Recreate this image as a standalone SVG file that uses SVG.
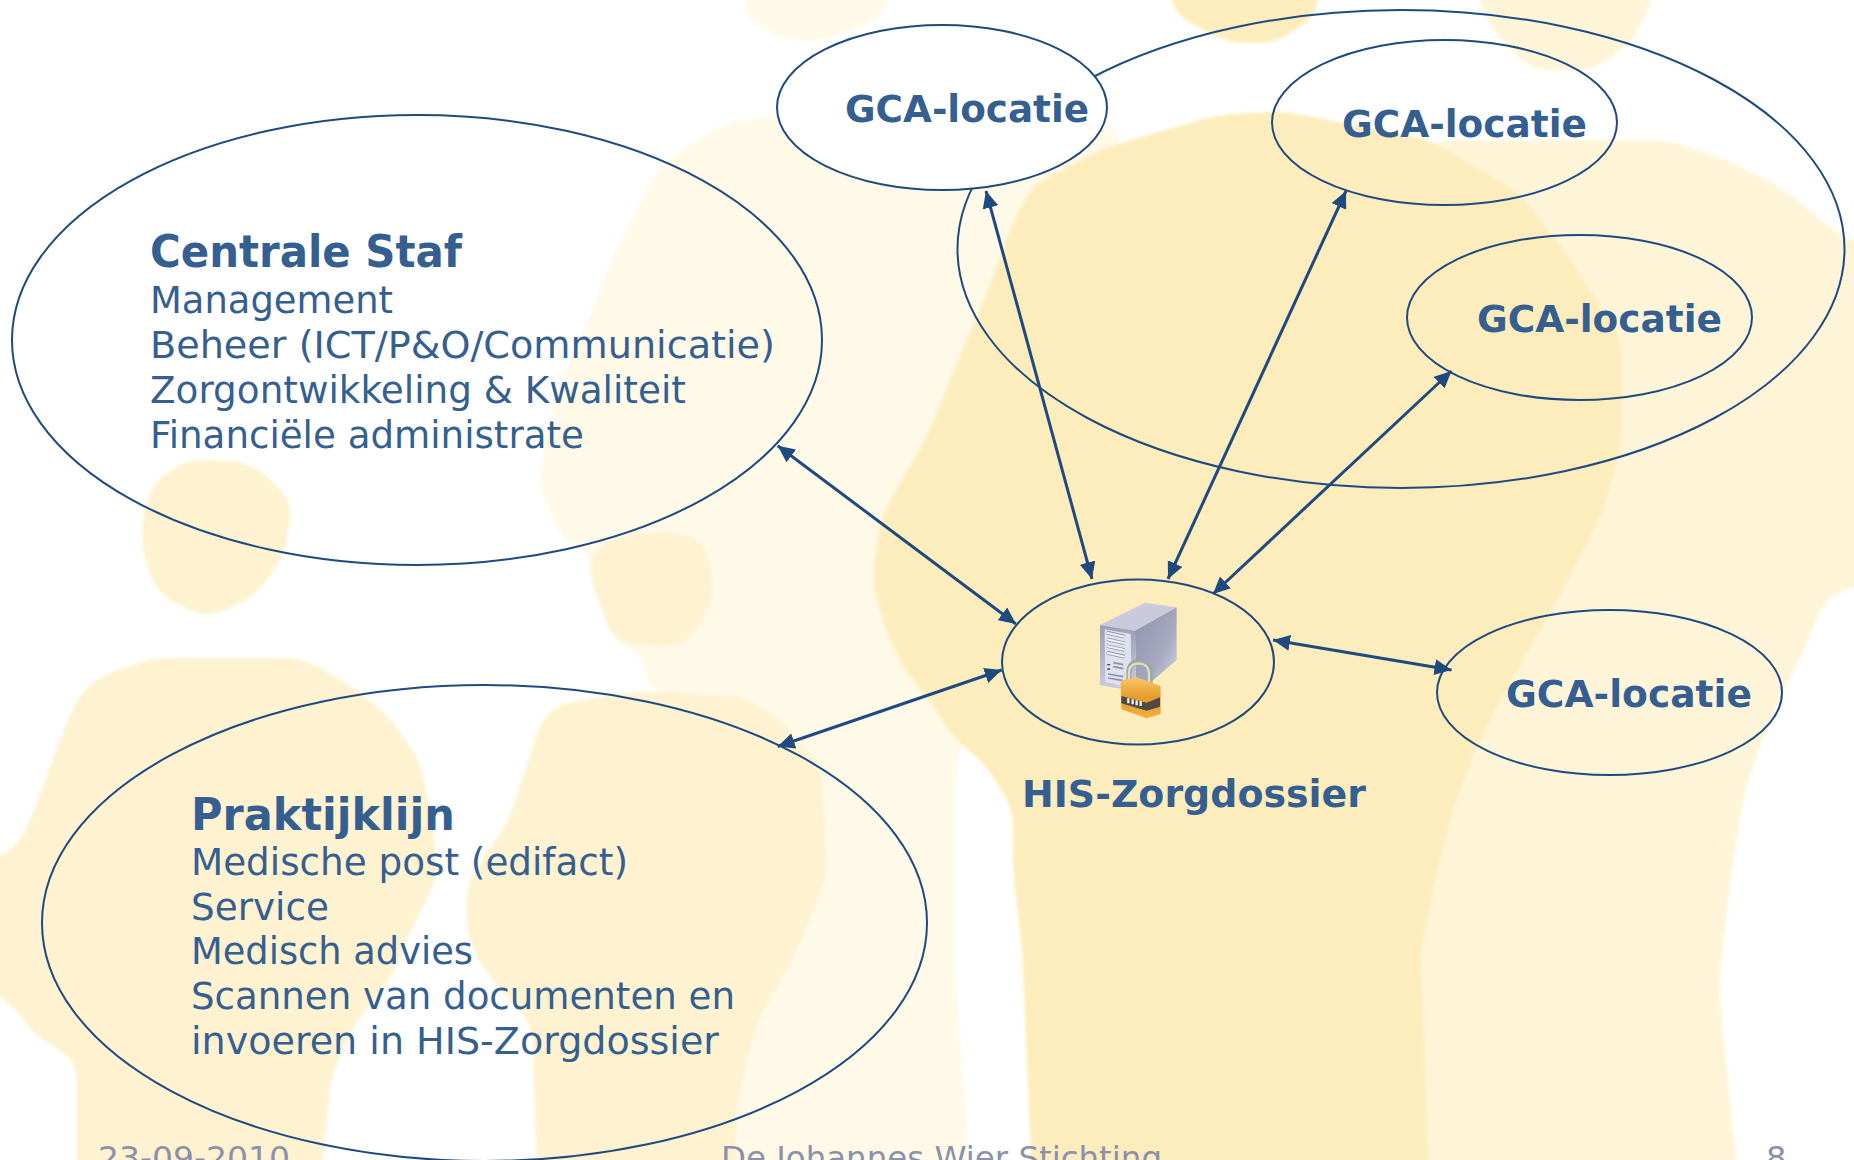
<svg xmlns="http://www.w3.org/2000/svg" width="1854" height="1160" viewBox="0 0 1854 1160">
<style>
.deep{fill:#fdedbc}.right{fill:#fef5d9}.pale{fill:#fff9e8}.mid{fill:#fef2d0}
#background path{filter:url(#soft)}
.n{fill:none;stroke:#1f4a80;stroke-width:2}
.c{stroke:#1f4a80;stroke-width:3;fill:none;marker-start:url(#h);marker-end:url(#h)}
text{font-family:"DejaVu Sans",Verdana,sans-serif;fill:#365f91}
.b{font-size:37px;font-weight:700}.t{font-size:44px;font-weight:700}.r{font-size:37px}
.f{font-size:32px;fill:#8b91ab}
</style>
<defs>
<marker id="h" markerUnits="userSpaceOnUse" markerWidth="18" markerHeight="16" refX="17" refY="8" orient="auto-start-reverse"><path d="M0 0L17 8L0 16Z" fill="#1f4a80"/></marker>
<filter id="soft" x="-15%" y="-15%" width="130%" height="130%" color-interpolation-filters="sRGB"><feGaussianBlur in="SourceGraphic" stdDeviation="11"/><feComponentTransfer><feFuncA type="linear" slope="12" intercept="-5.5"/></feComponentTransfer><feGaussianBlur stdDeviation="1.5"/></filter>
<linearGradient id="front" x1="0" y1="0" x2="0" y2="1"><stop offset="0" stop-color="#9a9eb8"/><stop offset="1" stop-color="#c9cde0"/></linearGradient>
<linearGradient id="side" x1="0" y1="0" x2="1" y2="1"><stop offset="0" stop-color="#8f93ac"/><stop offset=".6" stop-color="#a5a8bf"/><stop offset="1" stop-color="#d5d6e2"/></linearGradient>
<linearGradient id="lock" x1="0" y1="0" x2="0" y2="1"><stop offset="0" stop-color="#f7c765"/><stop offset=".5" stop-color="#e59b2b"/><stop offset="1" stop-color="#f0b040"/></linearGradient>
</defs>
<rect width="1854" height="1160" fill="#fff"/>
<g id="background">
<path class="pale" d="M745 -40L893 -40L884 18L851 30L810 44L769 33L745 18Z"/>
<path class="right" d="M1471 -40L1666 -40L1637 37L1595 70L1530 70L1486 22Z"/>
<path class="deep" d="M1162 -40L1323 -40L1317 15L1276 43L1229 43L1175 15Z"/>
<path class="pale" d="M727 122L850 105L1120 125L1120 400L1000 700L957 750L957 998L968 1135L968 1200L733 1200L739 1098L757 1024L798 950L828 876L822 765L769 709L739 695L645 691L645 654L615 643L591 580L591 551L562 540L538 481L556 392L591 314L615 252L645 192L668 159Z"/>
<path class="right" d="M1430 140L1666 140L1725 159L1784 189L1838 233L1900 260L1900 570L1826 598L1802 654L1767 728L1746 787L1731 876L1719 987L1740 1200L1420 1200L1420 500Z"/>
<path class="deep" d="M1104 148L1217 115L1282 111L1430 140L1518 192L1566 252L1622 340L1622 444L1601 518L1568 580L1548 617L1506 691L1477 746L1453 809L1436 876L1421 950L1430 1200L1033 1200L1022 950L1013 869L1013 809L986 765L951 735L927 695L911 680L887 635L872 580L881 518L905 474L927 437L962 351L986 296L1013 222L1033 185Z"/>
<path class="mid" d="M142 518L154 481L189 459L248 462L278 485L293 507L284 555L260 591L237 606L207 617L177 606L154 587L142 550Z"/>
<path class="mid" d="M591 580L591 551L627 533L692 533L710 555L713 602L686 647L615 643Z"/>
<path class="mid" d="M-40 876L18 846L35 809L53 758L77 698L100 676L154 658L302 658L349 684L390 717L420 761L432 820L438 876L414 924L390 980L355 1024L331 1076L319 1200L77 1200L77 1061L35 1035L12 1005L-40 968Z"/>
<path class="mid" d="M467 883L509 820L544 713L568 702L639 691L739 695L769 709L822 765L828 876L798 950L757 1024L739 1098L733 1200L538 1200L532 1024L485 972L467 935Z"/>
</g>
<g id="gca-group"><ellipse class="n" cx="1401" cy="249" rx="443.5" ry="239"/></g>
<g id="connectors">
<line class="c" x1="777.7" y1="445.8" x2="1016" y2="624"/>
<line class="c" x1="777.7" y1="746.5" x2="1001.7" y2="670"/>
<line class="c" x1="986" y1="191" x2="1092" y2="579"/>
<line class="c" x1="1346" y1="191" x2="1168" y2="579"/>
<line class="c" x1="1451.5" y1="371" x2="1213" y2="594"/>
<line class="c" x1="1273" y1="640" x2="1451.5" y2="670"/>
</g>
<g id="centrale-staf">
<ellipse class="n" cx="417" cy="340" rx="405" ry="225"/>
<text class="t" x="150" y="267" textLength="312" lengthAdjust="spacingAndGlyphs">Centrale Staf</text>
<text class="r" x="150" y="312.5" textLength="243" lengthAdjust="spacingAndGlyphs">Management</text>
<text class="r" x="150" y="357.5" textLength="625" lengthAdjust="spacingAndGlyphs">Beheer (ICT/P&amp;O/Communicatie)</text>
<text class="r" x="150" y="402.5" textLength="536" lengthAdjust="spacingAndGlyphs">Zorgontwikkeling &amp; Kwaliteit</text>
<text class="r" x="150" y="447.5" textLength="434" lengthAdjust="spacingAndGlyphs">Financiële administrate</text>
</g>
<g id="praktijklijn">
<ellipse class="n" cx="484.5" cy="923" rx="442.5" ry="238"/>
<text class="t" x="191" y="829.5" textLength="264" lengthAdjust="spacingAndGlyphs">Praktijklijn</text>
<text class="r" x="191" y="875" textLength="437" lengthAdjust="spacingAndGlyphs">Medische post (edifact)</text>
<text class="r" x="191" y="919.5" textLength="138" lengthAdjust="spacingAndGlyphs">Service</text>
<text class="r" x="191" y="964" textLength="282" lengthAdjust="spacingAndGlyphs">Medisch advies</text>
<text class="r" x="191" y="1008.5" textLength="544" lengthAdjust="spacingAndGlyphs">Scannen van documenten en</text>
<text class="r" x="191" y="1053.5" textLength="528" lengthAdjust="spacingAndGlyphs">invoeren in HIS-Zorgdossier</text>
</g>
<g id="gca-1"><ellipse class="n" style="fill:#fff" cx="942" cy="107.5" rx="165" ry="82.5"/><text class="b" x="845" y="122" textLength="244" lengthAdjust="spacingAndGlyphs">GCA-locatie</text></g>
<g id="gca-2"><ellipse class="n" cx="1444.5" cy="122.5" rx="172.5" ry="82.5"/><text class="b" x="1342" y="137" textLength="245" lengthAdjust="spacingAndGlyphs">GCA-locatie</text></g>
<g id="gca-3"><ellipse class="n" cx="1579.5" cy="317.5" rx="172.5" ry="82.5"/><text class="b" x="1477" y="332" textLength="245" lengthAdjust="spacingAndGlyphs">GCA-locatie</text></g>
<g id="gca-4"><ellipse class="n" cx="1609.5" cy="692.5" rx="172.5" ry="82.5"/><text class="b" x="1506" y="707" textLength="246" lengthAdjust="spacingAndGlyphs">GCA-locatie</text></g>
<g id="his-zorgdossier">
<ellipse class="n" cx="1138" cy="662" rx="136" ry="82.5"/>
<g id="server-icon" transform="translate(980 560) scale(.3333)">
<path d="M360 195L495 128L590 142L465 212Z" fill="#c9cbdc"/>
<path d="M465 212L590 142L590 300L520 360L468 385Z" fill="url(#side)"/>
<path d="M360 195L465 212L468 395L360 375Z" fill="url(#front)"/>
<path d="M374 208L452 222L455 385L376 366Z" fill="#dfe2ee"/>
<path d="M380 218L434 230M380 238L434 250M380 258L434 270M380 278L434 290" stroke="#8d92a8" stroke-width="11" fill="none"/>
<path d="M380 218L434 230M380 238L434 250M380 258L434 270M380 278L434 290" stroke="#f2f3f8" stroke-width="6" fill="none"/>
<path d="M386 312L386 316M386 325L386 329" stroke="#3c4a50" stroke-width="9" fill="none"/>
<path d="M400 308L430 314M400 320L430 326M384 342L430 350M384 354L430 362" stroke="#8d92a8" stroke-width="5" fill="none"/>
<path d="M447 372L447 335Q448 308 477 306Q508 308 510 338L510 385" fill="none" stroke="#a4a69a" stroke-width="16"/>
<path d="M447 372L447 335Q448 312 477 310Q505 312 507 338L507 385" fill="none" stroke="#dcdcd0" stroke-width="7"/>
<path d="M422 362L470 352L542 378L542 462L500 475L424 448Z" fill="url(#lock)"/>
<path d="M424 408L500 428L540 412L540 440L500 452L424 430Z" fill="#4e4a48"/>
<path d="M445 415L445 430M458 418L458 433M470 421L470 436M482 423L482 438" stroke="#eee" stroke-width="7" fill="none"/>
</g>
<text class="b" x="1022" y="807" textLength="344" lengthAdjust="spacingAndGlyphs">HIS-Zorgdossier</text>
</g>
<g id="footer">
<text class="f" x="98" y="1169" textLength="192" lengthAdjust="spacingAndGlyphs">23-09-2010</text>
<text class="f" x="721" y="1169" textLength="441" lengthAdjust="spacingAndGlyphs">De Johannes Wier Stichting</text>
<text class="f" x="1766" y="1169">8</text>
</g>
</svg>
